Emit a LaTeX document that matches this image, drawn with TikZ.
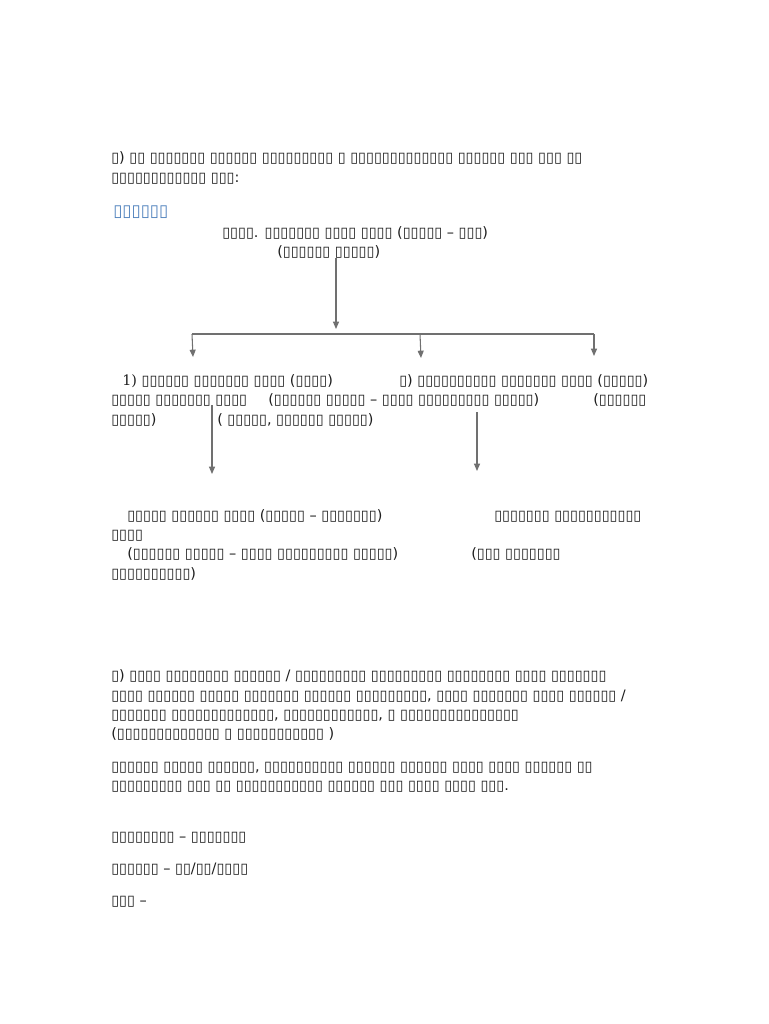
\documentclass[tikz,border=0pt]{standalone}
\usepackage{fontspec}
\setmainfont{DejaVu Sans}
\newfontfamily\dvserif{DejaVu Serif}
\usetikzlibrary{arrows.meta}
\definecolor{txt}{HTML}{1E1E1E}
\definecolor{hd}{HTML}{4F81BD}
\definecolor{ln}{HTML}{707070}
\begin{document}
\begin{tikzpicture}[x=0.75pt,y=-0.75pt,
  t/.style={anchor=base west,inner sep=0pt,text=txt,font=\fontsize{10.8}{13}\selectfont},
  head/.style={anchor=base west,inner sep=0pt,text=hd,font=\fontsize{12.5}{15}\selectfont},
  conn/.style={draw=ln,line width=0.8pt},
  arr/.style={conn,-{Triangle[length=5.5pt,width=4.5pt]}}]
\useasboundingbox[fill=white] (0,0) rectangle (768,1024);
% intro
\node[t] (l1) at (111,162) {▯) ▯▯ ▯▯▯▯▯▯▯ ▯▯▯▯▯▯ ▯▯▯▯▯▯▯▯▯ ▯ ▯▯▯▯▯▯▯▯▯▯▯▯▯ ▯▯▯▯▯▯ ▯▯▯ ▯▯▯ ▯▯};
\node[t] (l2) at (111,182) {▯▯▯▯▯▯▯▯▯▯▯▯ ▯▯▯:};
\node[head] (h) at (113,216) {▯▯▯▯▯▯};
% chart
\node[t] (top1) at (222,237) {▯▯▯▯. ▯▯▯▯▯▯▯ ▯▯▯▯ ▯▯▯▯ (▯▯▯▯▯ – ▯▯▯)};
\node[t] (top2) at (277,256) {(▯▯▯▯▯▯ ▯▯▯▯▯)};
\coordinate (a0) at (336,258);
\coordinate (a1) at (336,329);
\coordinate (bl) at (192,334);
\coordinate (bm) at (420,334);
\coordinate (br) at (594,334);
\coordinate (el) at (193,357);
\coordinate (em) at (421,358);
\coordinate (er) at (594,356);
\draw[arr] (a0) -- (a1);
\draw[conn] (bl) -- (br);
\draw[arr] (bl) -- (el);
\draw[arr] (bm) -- (em);
\draw[arr] (br) -- (er);
\node[t] (m1) at (122,385) {{\dvserif 1)} ▯▯▯▯▯▯ ▯▯▯▯▯▯▯ ▯▯▯▯ (▯▯▯▯)};
\node[t] (m2) at (399,385) {▯) ▯▯▯▯▯▯▯▯▯▯ ▯▯▯▯▯▯▯ ▯▯▯▯ (▯▯▯▯▯)};
\node[t] (m3) at (111,404) {▯▯▯▯▯ ▯▯▯▯▯▯▯ ▯▯▯▯};
\node[t] (m4) at (268,404) {(▯▯▯▯▯▯ ▯▯▯▯▯ – ▯▯▯▯ ▯▯▯▯▯▯▯▯▯ ▯▯▯▯▯)};
\node[t] (m5) at (593,404) {(▯▯▯▯▯▯};
\node[t] (m6) at (111,424) {▯▯▯▯▯)};
\node[t] (m7) at (217,424) {( ▯▯▯▯▯, ▯▯▯▯▯▯ ▯▯▯▯▯)};
\coordinate (c0) at (212,405);
\coordinate (c1) at (212,474);
\coordinate (d0) at (477,412);
\coordinate (d1) at (477,471);
\draw[arr] (c0) -- (c1);
\draw[arr] (d0) -- (d1);
\node[t] (b1) at (127,520) {▯▯▯▯▯ ▯▯▯▯▯▯ ▯▯▯▯ (▯▯▯▯▯ – ▯▯▯▯▯▯▯)};
\node[t] (b2) at (494,520) {▯▯▯▯▯▯▯ ▯▯▯▯▯▯▯▯▯▯▯};
\node[t] (b3) at (111,539) {▯▯▯▯};
\node[t] (b4) at (127,558) {(▯▯▯▯▯▯ ▯▯▯▯▯ – ▯▯▯▯ ▯▯▯▯▯▯▯▯▯ ▯▯▯▯▯)};
\node[t] (b5) at (471,558) {(▯▯▯ ▯▯▯▯▯▯▯};
\node[t] (b6) at (111,578) {▯▯▯▯▯▯▯▯▯▯)};
% paragraph
\node[t] (p1) at (111,680) {▯) ▯▯▯▯ ▯▯▯▯▯▯▯▯ ▯▯▯▯▯▯ / ▯▯▯▯▯▯▯▯▯ ▯▯▯▯▯▯▯▯▯ ▯▯▯▯▯▯▯▯ ▯▯▯▯ ▯▯▯▯▯▯▯};
\node[t] (p2) at (111,700) {▯▯▯▯ ▯▯▯▯▯▯ ▯▯▯▯▯ ▯▯▯▯▯▯▯ ▯▯▯▯▯▯ ▯▯▯▯▯▯▯▯▯, ▯▯▯▯ ▯▯▯▯▯▯▯ ▯▯▯▯ ▯▯▯▯▯▯ /};
\node[t] (p3) at (111,719) {▯▯▯▯▯▯▯ ▯▯▯▯▯▯▯▯▯▯▯▯▯, ▯▯▯▯▯▯▯▯▯▯▯▯, ▯ ▯▯▯▯▯▯▯▯▯▯▯▯▯▯▯};
\node[t] (p4) at (111,738) {(▯▯▯▯▯▯▯▯▯▯▯▯▯ ▯ ▯▯▯▯▯▯▯▯▯▯▯ )};
\node[t] (q1) at (111,771) {▯▯▯▯▯▯ ▯▯▯▯▯ ▯▯▯▯▯▯, ▯▯▯▯▯▯▯▯▯▯ ▯▯▯▯▯▯ ▯▯▯▯▯▯ ▯▯▯▯ ▯▯▯▯ ▯▯▯▯▯▯ ▯▯};
\node[t] (q2) at (111,790) {▯▯▯▯▯▯▯▯▯ ▯▯▯ ▯▯ ▯▯▯▯▯▯▯▯▯▯▯ ▯▯▯▯▯▯ ▯▯▯ ▯▯▯▯ ▯▯▯▯ ▯▯▯.};
\node[t] (r1) at (111,841) {▯▯▯▯▯▯▯▯ – ▯▯▯▯▯▯▯};
\node[t] (r2) at (111,873) {▯▯▯▯▯▯ – ▯▯/▯▯/▯▯▯▯};
\node[t] (r3) at (111,905) {▯▯▯ –};
\end{tikzpicture}
\end{document}
